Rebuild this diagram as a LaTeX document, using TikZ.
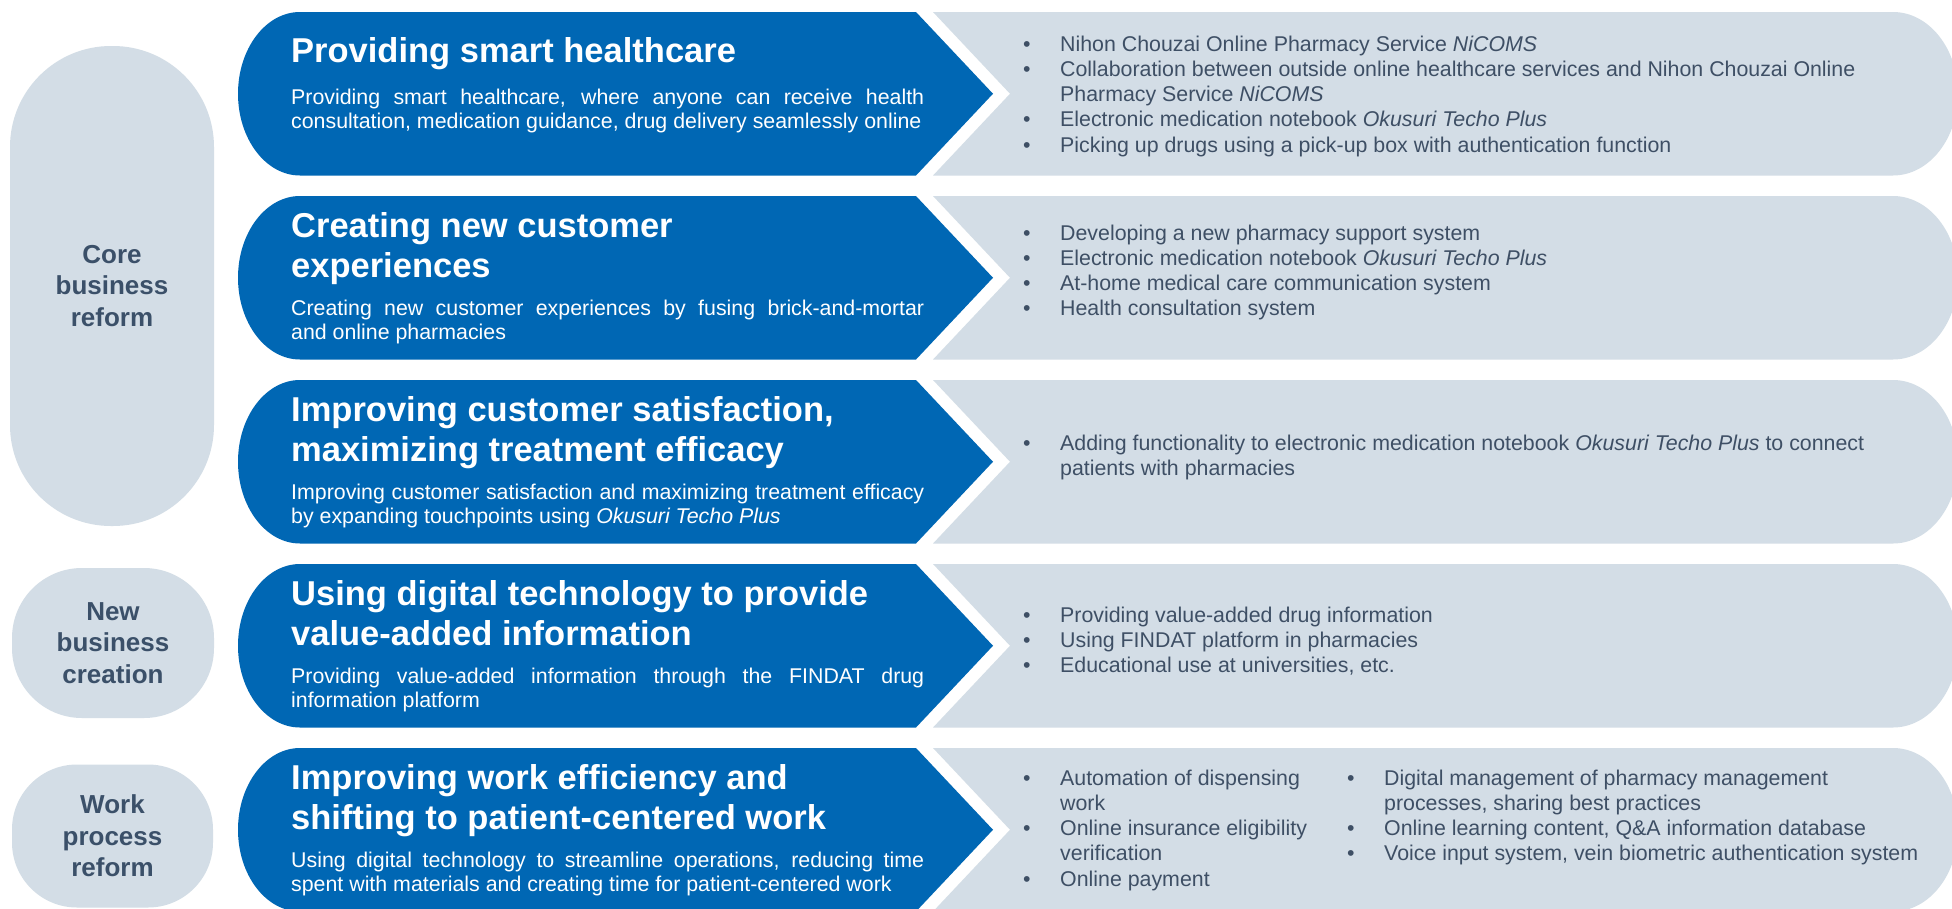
\documentclass[tikz,border=0pt]{standalone}
\usepackage{fontspec}
\setmainfont{Liberation Sans}
\usetikzlibrary{calc}
\pgfdeclarelayer{bg}
\pgfsetlayers{bg,main}
\definecolor{cblue}{RGB}{0,103,180}
\definecolor{cgray}{RGB}{211,221,230}
\definecolor{ctext}{RGB}{62,79,101}
\definecolor{cpill}{RGB}{59,80,105}
\definecolor{cconn}{RGB}{60,80,104}
\newcommand\ttlfont{\fontsize{34.5}{40}\selectfont\bfseries}
\newcommand\dscfont{\fontsize{21.35}{24.5}\selectfont}
\newcommand\lstfont{\fontsize{21.35}{25.3}\selectfont}
\newcommand\pilfont{\fontsize{26}{31.5}\selectfont\bfseries}
\newcommand\jl[1]{\hbox to 633pt{#1}}
\newcommand\rowpaths[1]{%
  \fill[bluebox] (300,#1) -- (916,#1) -- (993,#1+81.75) -- (916,#1+163.5) -- (300,#1+163.5)
    .. controls (265.76,#1+163.5) and (238,#1+126.9) .. (238,#1+81.75)
    .. controls (238,#1+36.6) and (265.76,#1) .. (300,#1) -- cycle;
  \fill[graybox] (933,#1) -- (1893,#1)
    .. controls (1928.9,#1) and (1958,#1+36.6) .. (1958,#1+81.75)
    .. controls (1958,#1+126.9) and (1928.9,#1+163.5) .. (1893,#1+163.5)
    -- (933,#1+163.5) -- (1010,#1+81.75) -- cycle;}
\tikzset{
  bluebox/.style={fill=cblue},
  graybox/.style={fill=cgray},
  pill/.style={fill=cgray, rounded corners=#1, inner sep=0pt, text=cpill, font=\pilfont, align=center},
  conn/.style={draw=cconn, line width=10pt},
  ttl/.style={anchor=base west, inner sep=0pt, text=white, font=\ttlfont},
  dsc/.style={anchor=base west, inner sep=0pt, text=white, font=\dscfont},
  lst/.style={anchor=base west, inner sep=0pt, text=ctext, font=\lstfont},
}
\begin{document}
\begin{tikzpicture}[x=1pt,y=-1pt]
\useasboundingbox[fill=white] (0,0) rectangle (1952,908);
\clip (0,0) rectangle (1952,908);

% rows
\rowpaths{12}
\rowpaths{196}
\rowpaths{380}
\rowpaths{564}
\rowpaths{748}

\coordinate (b1) at (238,92);
\coordinate (b2) at (238,277.75);
\coordinate (b3) at (238,461.75);
\coordinate (b4) at (238,645);
\coordinate (b5) at (238,826);

% pills
\node[pill=101pt, minimum width=204pt, minimum height=480pt] (p1) at (112,286) {Core\\business\\reform};
\node[pill=70pt, minimum width=202pt, minimum height=150pt] (p2) at (113,643) {New\\business\\creation};
\node[pill=65pt, minimum width=201pt, minimum height=143pt] (p3) at (112.5,836) {Work\\process\\reform};

\begin{pgfonlayer}{bg}
\draw[conn] (p1.center |- b1) -- (b1);
\draw[conn] (p1.center |- b2) -- (b2);
\draw[conn] (p1.center |- b3) -- (b3);
\draw[conn] (p2.center |- b4) -- (b4);
\draw[conn] (p3.center |- b5) -- (b5);
\end{pgfonlayer}

% titles
\node[ttl] (t1) at (291,62) {Providing smart healthcare};
\node[ttl] (t2) at (291,237.5) {\vtop{\hbox{Creating new customer}\hbox{experiences}}};
\node[ttl] (t3) at (291,421.5) {\vtop{\hbox{Improving customer satisfaction,}\hbox{maximizing treatment efficacy}}};
\node[ttl] (t4) at (291,605.5) {\vtop{\hbox{Using digital technology to provide}\hbox{value-added information}}};
\node[ttl] (t5) at (291,789.5) {\vtop{\hbox{Improving work efficiency and}\hbox{shifting to patient-centered work}}};

% descriptions
\node[dsc] (d1) at (291,104) {\vtop{\jl{Providing smart healthcare, where anyone can receive health}\hbox{consultation, medication guidance, drug delivery seamlessly online}}};
\node[dsc] (d2) at (291,315) {\vtop{\jl{Creating new customer experiences by fusing brick-and-mortar}\hbox{and online pharmacies}}};
\node[dsc] (d3) at (291,499) {\vtop{\jl{Improving customer satisfaction and maximizing treatment efficacy}\hbox{by expanding touchpoints using \textit{Okusuri Techo Plus}}}};
\node[dsc] (d4) at (291,683) {\vtop{\jl{Providing value-added information through the FINDAT drug}\hbox{information platform}}};
\node[dsc] (d5) at (291,867) {\vtop{\jl{Using digital technology to streamline operations, reducing time}\hbox{spent with materials and creating time for patient-centered work}}};

% lists
\node[lst] (g1) at (1023,51) {\begin{tabular}[t]{@{}p{37pt}@{}l@{}}
• & Nihon Chouzai Online Pharmacy Service \textit{NiCOMS}\\
• & Collaboration between outside online healthcare services and Nihon Chouzai Online\\
  & Pharmacy Service \textit{NiCOMS}\\
• & Electronic medication notebook \textit{Okusuri Techo Plus}\\
• & Picking up drugs using a pick-up box with authentication function
\end{tabular}};
\node[lst] (g2) at (1023,240) {\begin{tabular}[t]{@{}p{37pt}@{}l@{}}
• & Developing a new pharmacy support system\\
• & Electronic medication notebook \textit{Okusuri Techo Plus}\\
• & At-home medical care communication system\\
• & Health consultation system
\end{tabular}};
\node[lst] (g3) at (1023,450) {\begin{tabular}[t]{@{}p{37pt}@{}l@{}}
• & Adding functionality to electronic medication notebook \textit{Okusuri Techo Plus} to connect\\
  & patients with pharmacies
\end{tabular}};
\node[lst] (g4) at (1023,622) {\begin{tabular}[t]{@{}p{37pt}@{}l@{}}
• & Providing value-added drug information\\
• & Using FINDAT platform in pharmacies\\
• & Educational use at universities, etc.
\end{tabular}};
\node[lst] (g5a) at (1023,785) {\begin{tabular}[t]{@{}p{37pt}@{}l@{}}
• & Automation of dispensing\\
  & work\\
• & Online insurance eligibility\\
  & verification\\
• & Online payment
\end{tabular}};
\node[lst] (g5b) at (1347,785) {\begin{tabular}[t]{@{}p{37pt}@{}l@{}}
• & Digital management of pharmacy management\\
  & processes, sharing best practices\\
• & Online learning content, Q\&A information database\\
• & Voice input system, vein biometric authentication system
\end{tabular}};
\end{tikzpicture}
\end{document}
